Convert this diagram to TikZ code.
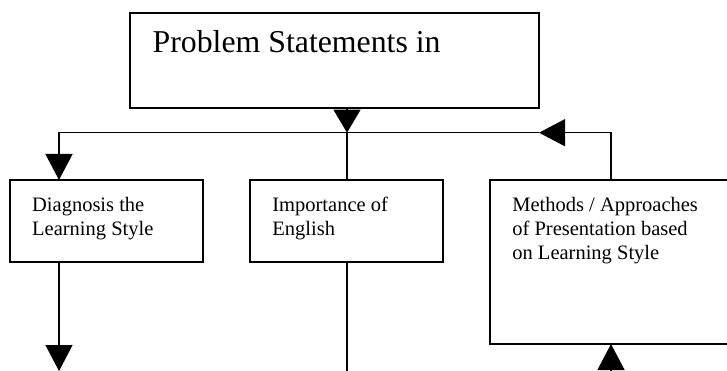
\documentclass[tikz,border=0pt]{standalone}
\usepackage{fontspec}
\setmainfont{Liberation Serif}
\usetikzlibrary{arrows.meta,positioning}

\begin{document}
\begin{tikzpicture}[x=1pt,y=-1pt,
    box/.style={draw, line width=2.3pt, inner sep=0pt, outer sep=0pt, anchor=north west},
    txt/.style={anchor=base west, inner sep=0pt, align=left, font=\fontsize{20.5}{24}\selectfont},
    arr/.style={-{Triangle[length=26pt,width=27pt]}},
    line width=1.3pt]
  \useasboundingbox (0,0) rectangle (727,371);
  \clip (0,0) rectangle (727,371);
  % the boxes (text anchored at the base of its last line)
  \node[box, minimum width=409pt, minimum height=95.6pt] (top) at (130,12.7) {};
  \node[anchor=base west, inner sep=0pt, font=\fontsize{31.8}{36}\selectfont] (topT)
    at ([shift={(22,40.3)}]top.north west) {Problem Statements in};
  \node[box, minimum width=193pt, minimum height=82pt] (diag) at (10,180) {};
  \node[txt] (diagT) at ([shift={(21.5,55.5)}]diag.north west) {Diagnosis the\\Learning Style};
  \node[box, minimum width=193pt, minimum height=82pt] (imp) at (250,180) {};
  \node[txt] (impT) at ([shift={(21.7,55.5)}]imp.north west) {Importance of\\English};
  \node[box, minimum width=260pt, minimum height=164pt] (meth) at (490,180) {};
  \node[txt] (methT) at ([shift={(21.7,79.5)}]meth.north west) {Methods / Approaches\\of Presentation based\\on Learning Style};
  % the connectors
  \coordinate (jn) at (347,132.7);
  \coordinate (lt) at (59,132.7);
  \coordinate (rt) at (611,132.7);
  \coordinate (ah) at (top.south east |- jn);
  \coordinate (lb) at (59,371);
  \coordinate (rb) at (611,371);
  \draw[-{Triangle[length=23pt,width=27pt]}] (top.south -| jn) -- (jn);
  \draw[arr] (jn) -- (lt) -- (diag.north -| lt);
  \draw (jn) -- (imp.north -| jn);
  \draw[arr] (meth.north -| rt) -- (rt) -- (ah);
  \draw (ah) -- (jn);
  \draw[arr] (diag.south -| lb) -- (lb);
  \draw (imp.south -| jn) -- (jn |- lb);
  \draw[arr] (rb) -- (meth.south -| rb);
\end{tikzpicture}
\end{document}
